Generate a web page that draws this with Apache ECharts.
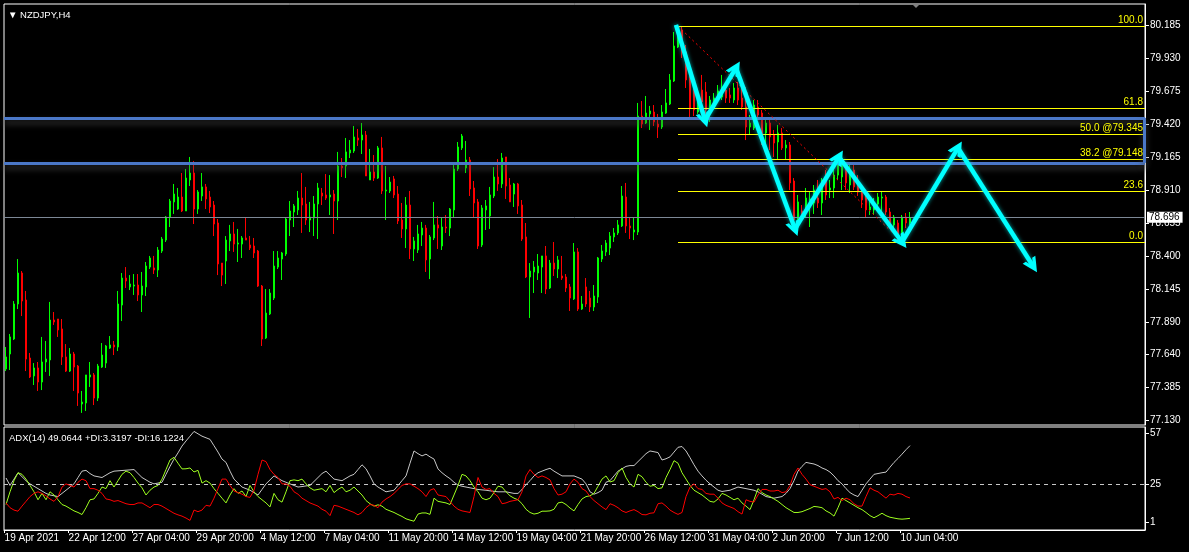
<!DOCTYPE html>
<html><head><meta charset="utf-8">
<script src="https://cdn.jsdelivr.net/npm/echarts@6/dist/echarts.min.js"></script>
<style>html,body{margin:0;padding:0;background:#000;}#c{width:1189px;height:552px;}</style>
</head><body><div id="c"></div>
<script>
// ---------- DATA (NZDJPY H4, 227 bars) ----------
const opens = [
77.526,77.642,77.758,78.029,78.269,78.060,77.611,77.472,77.534,77.425,
77.580,77.596,77.905,77.913,77.836,77.619,77.510,77.642,77.549,77.255,
77.263,77.464,77.480,77.301,77.541,77.572,77.688,77.712,77.696,78.021,
78.230,78.161,78.168,78.176,78.099,78.161,78.315,78.308,78.292,78.439,
78.524,78.702,78.819,78.764,78.857,78.749,78.989,79.043,78.764,78.865,
78.935,78.857,78.795,78.656,78.346,78.362,78.517,78.571,78.493,78.493,
78.540,78.486,78.478,78.439,78.168,77.766,77.952,78.075,78.315,78.377,
78.416,78.679,78.741,78.757,78.849,78.803,78.679,78.695,78.803,78.888,
78.873,78.857,78.880,78.826,79.097,79.097,79.198,79.213,79.314,79.298,
79.337,78.989,79.051,79.004,79.237,78.904,78.904,78.997,78.880,78.679,
78.610,78.795,78.455,78.447,78.563,78.617,78.377,78.540,78.641,78.478,
78.625,78.617,78.757,79.074,79.237,79.082,79.144,78.927,78.819,78.486,
78.757,78.710,78.865,79.012,78.958,79.167,78.950,78.880,78.958,78.795,
78.548,78.238,78.277,78.269,78.315,78.401,78.153,78.346,78.300,78.246,
78.238,78.161,78.068,78.432,77.990,78.161,78.075,78.006,78.083,78.377,
78.432,78.462,78.548,78.579,78.633,78.857,78.633,78.586,78.586,79.484,
79.430,79.500,79.515,79.422,79.399,79.507,79.577,79.755,80.018,80.150,
79.980,79.778,79.685,79.515,79.685,79.670,79.515,79.593,79.623,79.631,
79.685,79.647,79.608,79.701,79.623,79.554,79.399,79.391,79.554,79.507,
79.353,79.430,79.337,79.283,79.353,79.237,79.260,78.981,78.679,78.749,
78.741,78.780,78.811,78.849,78.811,78.989,78.911,78.927,79.027,79.012,
79.089,78.950,79.066,78.973,78.927,78.849,78.757,78.757,78.803,78.849,
78.857,78.741,78.641,78.656,78.579,78.702,78.656];
const closes = [
77.619,77.774,78.029,78.269,78.052,77.603,77.464,77.534,77.425,77.580,
77.603,77.905,77.890,77.828,77.619,77.510,77.642,77.541,77.340,77.270,
77.480,77.480,77.301,77.549,77.634,77.704,77.712,77.696,78.029,78.230,
78.207,78.184,78.176,78.099,78.168,78.323,78.385,78.292,78.447,78.532,
78.702,78.826,78.880,78.857,78.749,79.004,79.043,78.764,78.896,78.935,
78.842,78.780,78.648,78.339,78.253,78.524,78.571,78.493,78.501,78.540,
78.524,78.462,78.424,78.168,77.758,77.959,78.114,78.323,78.385,78.424,
78.687,78.749,78.788,78.849,78.795,78.679,78.702,78.803,78.927,78.865,
78.849,78.873,78.826,79.097,79.082,79.206,79.221,79.322,79.298,79.337,
79.020,79.051,79.004,79.237,78.904,78.911,78.973,78.873,78.672,78.610,
78.795,78.455,78.517,78.571,78.617,78.370,78.548,78.641,78.617,78.625,
78.617,78.764,79.074,79.244,79.329,79.144,78.919,78.811,78.478,78.772,
78.788,78.873,79.012,78.958,79.159,78.942,78.819,78.958,78.788,78.532,
78.238,78.284,78.315,78.323,78.401,78.145,78.346,78.300,78.370,78.230,
78.153,78.075,78.432,77.990,78.029,78.029,78.006,78.091,78.385,78.439,
78.501,78.555,78.579,78.641,78.865,78.633,78.617,78.602,79.484,79.422,
79.507,79.523,79.438,79.399,79.515,79.585,79.763,80.026,80.150,79.980,
79.763,79.546,79.531,79.623,79.593,79.531,79.608,79.623,79.678,79.709,
79.623,79.623,79.701,79.608,79.554,79.399,79.430,79.569,79.492,79.337,
79.430,79.322,79.275,79.353,79.237,79.260,78.966,78.679,78.819,78.733,
78.849,78.842,78.911,78.811,78.989,78.873,78.927,79.027,79.105,79.105,
78.966,79.051,78.935,78.896,78.834,78.757,78.780,78.795,78.857,78.857,
78.741,78.656,78.702,78.563,78.702,78.656,78.696];
const lows = [
77.510,77.518,77.750,77.990,77.936,77.510,77.456,77.402,77.356,77.363,
77.503,77.472,77.867,77.774,77.557,77.503,77.503,77.356,77.240,77.186,
77.201,77.387,77.247,77.278,77.534,77.534,77.681,77.634,77.665,77.897,
78.153,78.137,78.099,78.052,77.967,78.091,78.300,78.261,78.238,78.424,
78.509,78.625,78.726,78.757,78.741,78.749,78.942,78.648,78.726,78.826,
78.764,78.733,78.555,78.253,78.168,78.184,78.439,78.432,78.354,78.385,
78.524,78.447,78.385,78.161,77.704,77.758,77.944,78.060,78.300,78.215,
78.401,78.555,78.625,78.718,78.579,78.641,78.586,78.555,78.532,78.795,
78.834,78.718,78.571,78.679,79.012,79.004,79.159,79.198,79.252,79.190,
79.020,78.989,78.981,78.997,78.880,78.679,78.888,78.849,78.648,78.540,
78.462,78.377,78.362,78.424,78.478,78.277,78.222,78.524,78.455,78.447,
78.579,78.555,78.702,79.059,79.221,79.043,78.865,78.695,78.455,78.470,
78.602,78.610,78.849,78.904,78.927,78.842,78.819,78.780,78.726,78.517,
78.230,77.921,78.114,78.215,78.114,78.106,78.145,78.246,78.230,78.215,
78.122,77.975,78.060,77.975,77.983,78.006,77.967,77.975,78.037,78.354,
78.401,78.408,78.509,78.563,78.625,78.579,78.532,78.524,78.563,79.391,
79.422,79.376,79.407,79.314,79.384,79.500,79.569,79.747,80.010,79.933,
79.701,79.469,79.484,79.500,79.515,79.453,79.438,79.569,79.608,79.608,
79.585,79.585,79.585,79.569,79.531,79.298,79.337,79.376,79.453,79.260,
79.260,79.221,79.167,79.144,79.221,79.144,78.911,78.641,78.641,78.718,
78.695,78.625,78.726,78.772,78.718,78.834,78.849,78.849,78.989,78.911,
78.911,78.888,78.911,78.865,78.772,78.695,78.718,78.718,78.757,78.741,
78.718,78.617,78.617,78.524,78.510,78.617,78.641];
const highs = [
77.696,77.797,78.052,78.377,78.284,78.130,77.650,77.572,77.580,77.774,
77.743,78.045,77.967,77.913,77.913,77.719,77.688,77.658,77.557,77.356,
77.480,77.580,77.495,77.565,77.727,77.712,77.781,77.743,78.130,78.269,
78.315,78.253,78.261,78.261,78.277,78.354,78.401,78.401,78.470,78.548,
78.710,78.842,78.958,78.927,79.043,79.074,79.167,79.136,78.911,79.043,
78.958,78.904,78.826,78.687,78.346,78.555,78.641,78.664,78.610,78.555,
78.702,78.555,78.540,78.447,78.176,78.145,78.145,78.439,78.439,78.432,
78.702,78.826,78.803,78.904,79.043,78.935,78.819,78.865,78.966,78.927,
79.035,79.027,78.911,79.206,79.159,79.314,79.298,79.407,79.384,79.430,
79.368,79.229,79.182,79.252,79.322,79.097,79.012,79.020,78.942,78.811,
78.857,78.904,78.548,78.641,78.664,78.641,78.563,78.819,78.710,78.695,
78.718,78.772,79.128,79.283,79.345,79.291,79.167,78.981,78.842,78.795,
78.834,78.935,79.089,79.151,79.198,79.167,79.004,78.966,78.966,78.834,
78.656,78.346,78.362,78.416,78.401,78.478,78.370,78.509,78.401,78.401,
78.261,78.184,78.501,78.462,78.091,78.230,78.130,78.176,78.393,78.486,
78.524,78.586,78.617,78.679,78.942,78.966,78.695,78.702,79.585,79.600,
79.639,79.562,79.569,79.500,79.569,79.693,79.809,80.134,80.180,80.173,
80.034,79.840,79.732,79.685,79.802,79.747,79.639,79.662,79.724,79.802,
79.724,79.701,79.740,79.747,79.716,79.709,79.492,79.608,79.608,79.531,
79.453,79.469,79.376,79.415,79.391,79.298,79.283,79.004,78.873,78.795,
78.927,78.896,78.950,78.989,79.004,79.066,78.989,79.066,79.144,79.144,
79.105,79.105,79.105,79.027,78.950,78.873,78.834,78.849,78.888,78.896,
78.873,78.772,78.718,78.679,78.718,78.733,78.741];

const adxValues = [
28.7,24,28,32,29.5,27,25,23.5,22,20.5, 19,18,17.5,17,19,21,23,25,29,33,
33.5,31.5,30,29.5,29,30.5,32,33,33.2,33.4, 33.6,33.8,34,31.5,29,27.5,26,25,25.5,26,
31,36,40.6,44.5,48.8,52,55,58,56.5,55, 54,53,49,45,40.6,38.5,33,28,25.5,23,
22,21,19.5,18,21.5,25,27.5,30,28.5,27, 26,25,24,23,23.3,23.7,24,26.5,29,31.5,
33,30.5,28,27.5,27,28.5,30,31,34,37, 34.5,30,25,23,21.5,20,20.5,21,24,27,
30,38,45.7,44,42.6,43.7,42,40.6,34.4,32, 30,28.3,26,24.2,23.5,23,22.5,22,21.5,21.2,
21,20.6,20.3,20,20,20,19.5,19,19,21.5, 24.5,27,30,32,33,34,34.8,33,31.5,30,
30,30,30,29,28,25,20,18.5,19.5,21, 26,27,30,33,34.5,36,36.5,36.5,39,41.5,
44,45.7,45.2,44.7,40,40.8,42,45,48,48.5, 45.7,41.5,37,33,30,27.3,25,23,21,20.2,
20.6,21,22,23,22.5,22,21.5,21,20,18.5, 17,16.5,16,16.5,17,19,22,27,33,36,
38.5,38,37.5,36.5,35,34,32.4,30,27,25, 22,19.5,18,17,21,25,28,31,31.5,32,
32.4,35.5,38.5,41,43.7,46.5,49.06];
const plusDI = [
12,20,27,32,31,28,24,20,15,19, 15,20,18,15,12,11,9.5,8,7,5.7,
10,15,15.5,19,23,22,27,23,27,31, 33,32,29,25.5,22.5,18,21,23,24,28,
34,40,41.7,38,34.4,34.5,35,32.5,33.5,25.5, 27,25.5,22,19,16,13,18,22,19,20.5,
17,24,20,17,15,13,10.5,19,15,13.5, 20,27,27.5,27,28,25,22.5,21,21.5,22,
20,24,19.5,21.5,23,20,21,23,20.5,18, 14.5,12.5,11,11.8,11,9,8,7,5.7,4.5,
3,2.2,1.5,6,6.7,6.7,5.8,16,14,13.5, 13,12,18,24,31,30,27,23,20,16,
15,16,19.5,23.5,23,20,17.5,16,15,12.5, 9,7,6,6.5,7.8,7.8,8,9,13,13.5,
12,9.8,8,12,15.5,17,17.5,19,23.5,28, 30,26.2,27,32,35,29,25,23,31,29.5,
26,23.5,24,22,22.5,29,34,39.6,38,32, 28,24,21,19.5,18,16,14,13.5,15.5,19,
18,16.5,15,16,13,11,8.8,15,22,19.5, 18,17,15.5,14,12,10,8.5,7,7,7.5,
8.5,9.5,10.8,10.5,10,8,6.7,4.7,10,16, 14.5,13,11.5,10,8.8,7,5,3.7,5,6.5,
5,4,3.5,3,2.8,3,3.32];
const minusDI = [
13,10,8.5,7.8,11,14,17,19,20,19, 17.5,15.5,14,17,23,25,24,23,26,28,
27,22,22,21,19,15.5,15,14,14.5,13.5, 12.5,12,12,13,13,11.5,10,12,12,11,
9.5,8,6.5,5.5,4.7,3.5,2,8.5,7.5,8.5, 11.5,11,16,22,28,28,24,20.5,19.5,18.5,
17,16.5,21,31,40,39,34,31,29,25, 25,23.5,20,18.5,16,14.5,13,12,11,9,
7.8,5,11.5,11,10,9,8,7,5.5,7, 10,12,11.5,10,13.5,15.5,17,19,21.5,24,
25,25,23.5,22,20,17,21,22,18,17.5, 17,14,11,9,8,7.5,7,17,29,23,
21.5,22,19,17,12.5,13,14,14.5,15,20, 30,34,31,29,30,29,27.5,22,18,18.5,
20,25,28,26,22,20.5,17,14.5,12.5,10.5, 8.8,12.5,11.5,10,8,7,8,8.8,7.5,5.7,
5.5,6.5,6.8,12.5,13,11,8.5,7,5.8,7, 17,23,25,22,21.5,19,18.5,18.5,16,13,
11.5,10.5,9.5,7.5,6,15,14,13.5,18,21.5, 21.5,20.5,20.5,21,19.5,20,24,31,35,31,
28,24.5,23.5,22.5,21.5,22,20,15.5,16.5,14.5, 16,15,12.5,11,11,17,22.5,21,20,18,
16,18.5,18,19,18.5,17,16.12];

const priceTicks = [80.185,79.930,79.675,79.420,79.165,78.910,78.655,78.400,78.145,77.890,77.640,77.385,77.130];
const adxTicks = [57,25,1];
const timeLabels = ['19 Apr 2021','22 Apr 12:00','27 Apr 04:00','29 Apr 20:00','4 May 12:00','7 May 04:00','11 May 20:00','14 May 12:00','19 May 04:00','21 May 20:00','26 May 12:00','31 May 04:00','2 Jun 20:00','7 Jun 12:00','10 Jun 04:00'];
const fibLevels = [80.180,79.542,79.345,79.148,78.904,78.510];
const fibLabels = ['100.0','61.8','50.0 @79.345','38.2 @79.148','23.6','0.0'];
const fibStartBar = 168;
const trendX = [168,224];
const trendY = [80.180,78.510];
const zigX = [167.5,174.75,182.5,197.25,208.25,224,238,256.75];
const zigY = [80.189,79.453,79.856,78.610,79.167,78.509,79.237,78.323];
const zoneLevels = [79.469,79.121];
const lastPrice = 78.696;
const adxLevel = 25;

// ---------- CHART ----------
const X_MIN = -0.5, X_MAX = 284.75;
const font = 'Liberation Sans, Arial, sans-serif';
const candleData = opens.map((o,i)=>[i,o,closes[i],lows[i],highs[i]]);
const toXY = arr => arr.map((v,i)=>[i,v]);
const tickBars = timeLabels.map((_,k)=>k*16-0.35);
const zigSegs = [];
for (let k=0;k<zigX.length-1;k++) zigSegs.push({coords:[[zigX[k],zigY[k]],[zigX[k+1],zigY[k+1]]]});
const chevron = 'path://M0,12 L8,0 L16,12 L12,12 L8,6 L4,12 Z';

const chart = echarts.init(document.getElementById('c'));
chart.setOption({
  backgroundColor:'#000',
  animation:false,
  textStyle:{fontFamily:font},
  title:[
    {text:'\u25BC NZDJPY,H4', left:3, top:5, textStyle:{color:'#fff',fontSize:9.5,fontWeight:'normal',fontFamily:font}},
    {text:'ADX(14) 49.0644 +DI:3.3197 -DI:16.1224', left:4, top:428, textStyle:{color:'#fff',fontSize:9.5,fontWeight:'normal',fontFamily:font}}
  ],
  grid:[
    {left:4, top:4, width:1141, height:421, show:true, borderColor:'#fff', borderWidth:1, backgroundColor:'#000'},
    {left:4, top:427, width:1141, height:103, show:true, borderColor:'#fff', borderWidth:1, backgroundColor:'#000'}
  ],
  xAxis:[
    {type:'value', gridIndex:0, min:X_MIN, max:X_MAX, show:false, axisLine:{onZero:false}, splitLine:{show:false}},
    {type:'value', gridIndex:1, min:X_MIN, max:X_MAX,
     axisLine:{show:true, onZero:false, lineStyle:{color:'#fff'}},
     axisTick:{show:true, customValues:tickBars, length:3, lineStyle:{color:'#fff'}},
     axisLabel:{customValues:tickBars, formatter:v=>timeLabels[Math.round((v+0.35)/16)]||'', color:'#fff', fontSize:10, align:'left', margin:3, fontFamily:font},
     splitLine:{show:false}}
  ],
  yAxis:[
    {type:'value', gridIndex:0, position:'right', min:77.0925, max:80.351,
     axisLine:{show:true, onZero:false, lineStyle:{color:'#fff'}},
     axisTick:{show:true, customValues:priceTicks, length:4, lineStyle:{color:'#fff'}},
     axisLabel:{customValues:priceTicks, formatter:v=>v.toFixed(3), color:'#fff', fontSize:10, margin:5, fontFamily:font},
     splitLine:{show:false}},
    {type:'value', gridIndex:1, position:'right', min:-4.03, max:60.78,
     axisLine:{show:true, onZero:false, lineStyle:{color:'#fff'}},
     axisTick:{show:true, customValues:adxTicks, length:4, lineStyle:{color:'#fff'}},
     axisLabel:{customValues:adxTicks, formatter:v=>String(v), color:'#fff', fontSize:10, margin:5, fontFamily:font},
     splitLine:{show:false}}
  ],
  series:[
    {type:'candlestick', name:'NZDJPY', xAxisIndex:0, yAxisIndex:0, data:candleData,
     encode:{x:0, y:[1,2,3,4]}, barWidth:2,
     itemStyle:{color:'#00ff00', color0:'#ff0000', borderColor:'#00ff00', borderColor0:'#ff0000', borderWidth:1},
     z:2},
    // current price line
    {type:'line', xAxisIndex:0, yAxisIndex:0, data:[], silent:true, z:3, color:'#7d8896',
     markLine:{silent:true, symbol:['none','none'], animation:false,
       lineStyle:{color:'#7d8896', width:1, type:'solid'},
       label:{show:true, position:'end', distance:2, formatter:lastPrice.toFixed(3), color:'#000', backgroundColor:'#fff', fontSize:10, padding:[1,3,0,2], fontFamily:font},
       data:[{yAxis:lastPrice, lineStyle:{color:'#7d8896'}}]}},
    // fibonacci levels
    {type:'line', xAxisIndex:0, yAxisIndex:0, data:[], silent:true, z:4, color:'#ffff00',
     markLine:{silent:true, symbol:['none','none'], animation:false,
       lineStyle:{color:'#ffff00', width:1, type:'solid'},
       label:{show:true, position:'insideEndTop', formatter:'{b}', color:'#ffff00', fontSize:10, distance:[2,1], fontFamily:font},
       data:fibLevels.map((v,k)=>[{name:fibLabels[k], coord:[fibStartBar,v]},{coord:[X_MAX,v]}])}},
    // blue zone
    {type:'line', xAxisIndex:0, yAxisIndex:0, data:[], silent:true, z:5, color:'#4b78c8',
     markLine:{silent:true, symbol:['none','none'], animation:false,
       lineStyle:{color:'#4b78c8', width:3, type:'solid', shadowColor:'rgba(70,70,70,0.9)', shadowBlur:6, shadowOffsetY:4},
       label:{show:false},
       data:[{yAxis:zoneLevels[0]},{yAxis:zoneLevels[1]},
             [{coord:[X_MAX-0.3,zoneLevels[0]]},{coord:[X_MAX-0.3,zoneLevels[1]]}]]}},
    // red dotted trend (fib base)
    {type:'line', xAxisIndex:0, yAxisIndex:0, data:trendX.map((x,k)=>[x,trendY[k]]), symbol:'none', silent:true, z:6,
     lineStyle:{color:'#ff0000', width:1, type:[2,3]}},
    // cyan zigzag
    {type:'lines', coordinateSystem:'cartesian2d', xAxisIndex:0, yAxisIndex:0, z:10, silent:true,
     symbol:['none', chevron], symbolSize:15,
     lineStyle:{color:'#00ffff', width:4.5, opacity:1, curveness:0, shadowColor:'rgba(0,255,255,0.6)', shadowBlur:4},
     data:zigSegs},
    // ADX
    {type:'line', name:'ADX', xAxisIndex:1, yAxisIndex:1, data:toXY(adxValues), symbol:'none', z:3, color:'#c8c8c8',
     lineStyle:{color:'#c8c8c8', width:1},
     markLine:{silent:true, symbol:['none','none'], animation:false,
       lineStyle:{color:'#c8c8c8', width:1, type:[4,4]}, label:{show:false}, data:[{yAxis:adxLevel}]}},
    {type:'line', name:'+DI', xAxisIndex:1, yAxisIndex:1, data:toXY(plusDI), symbol:'none', z:4, color:'#9eff1f',
     lineStyle:{color:'#9eff1f', width:1}},
    {type:'line', name:'-DI', xAxisIndex:1, yAxisIndex:1, data:toXY(minusDI), symbol:'none', z:5, color:'#ff0000',
     lineStyle:{color:'#ff0000', width:1}}
  ],
  graphic:[
    {type:'polygon', silent:true, shape:{points:[[911,3],[921,3],[916,8]]}, style:{fill:'#808080'}}
  ]
});
</script>
</body></html>
